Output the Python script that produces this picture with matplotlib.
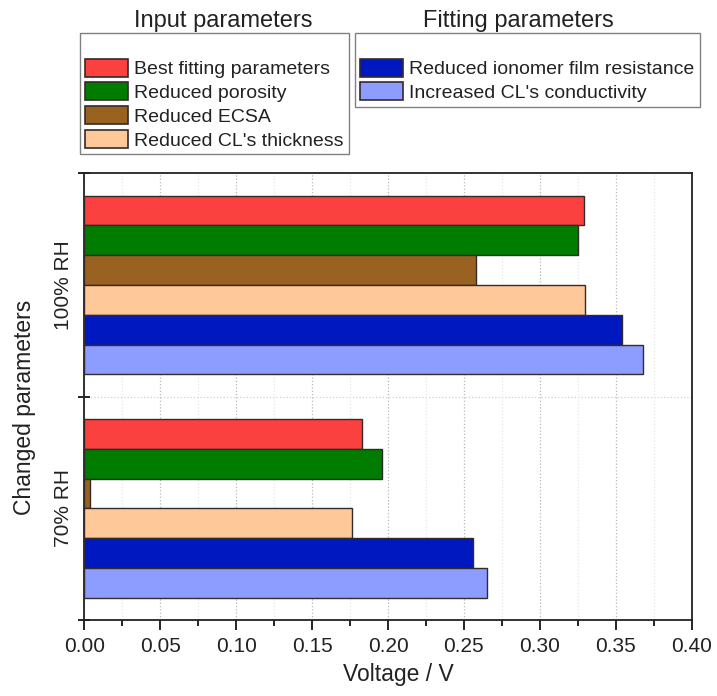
import numpy as np
import matplotlib
matplotlib.use('Agg')
import matplotlib.pyplot as plt
import matplotlib.ticker as ticker
from matplotlib.patches import Patch

plt.rcParams['font.family'] = ['Liberation Sans', 'DejaVu Sans']

groups = ['70% RH', '100% RH']
series = ['Best fitting parameters', 'Reduced porosity', 'Reduced ECSA',
          "Reduced CL's thickness", 'Reduced ionomer film resistance',
          "Increased CL's conductivity"]
colors = ['#fb4040', '#007c00', '#9a6220', '#ffc898', '#0018c0', '#8c9cff']

# voltage for each series, [70% RH, 100% RH]
best_fit = [0.183, 0.329]
porosity = [0.196, 0.325]
ecsa = [0.004, 0.258]
thickness = [0.176, 0.330]
ionomer = [0.256, 0.354]
conductivity = [0.265, 0.368]
values = [best_fit, porosity, ecsa, thickness, ionomer, conductivity]

W, H = 717, 696
fig = plt.figure(figsize=(W / 100, H / 100), dpi=100)
ax = fig.add_axes([84.3 / W, 1 - 620 / H, 607.4 / W, 446.7 / H])

y = np.arange(len(groups))
h = 0.8 / len(series)
for i, (vals, c) in enumerate(zip(values, colors)):
    ax.barh(y + (2.5 - i) * h, vals, height=h, color=c,
            edgecolor='#332a2a', linewidth=1.0, zorder=3)

ax.set_xlim(0, 0.40)
ax.set_ylim(-0.5, 1.5)

ax.xaxis.set_major_locator(ticker.MultipleLocator(0.05))
ax.xaxis.set_minor_locator(ticker.MultipleLocator(0.025))
ax.xaxis.set_major_formatter(ticker.FormatStrFormatter('%.2f'))
ax.tick_params(axis='x', which='major', direction='out', length=7, width=1.2,
               labelsize=15, pad=5, top=False, labelcolor='#222222')
ax.tick_params(axis='x', which='minor', direction='out', length=4, width=1.2,
               top=False)

ax.set_yticks([-0.5, 0.5, 1.5])
ax.set_yticklabels([])
ax.set_yticks(y, minor=True)
ax.set_yticklabels(groups, minor=True, rotation=90, va='center', fontsize=15,
                   color='#222222')
ax.tick_params(axis='y', which='major', direction='inout', length=8, width=1.2)
ax.tick_params(axis='y', which='minor', length=0, pad=8)

ax.grid(True, which='major', axis='x', color='#b8b8b8', linestyle=':', linewidth=0.9, zorder=0)
ax.grid(True, which='minor', axis='x', color='#e6e6e6', linestyle=':', linewidth=0.9, zorder=0)
ax.axhline(0.5, color='#d0d0d0', linestyle=':', linewidth=0.9, zorder=0)

for s in ax.spines.values():
    s.set_linewidth(1.3)
    s.set_color('#222222')

fig.text(398 / W, 1 - 675 / H, 'Voltage / V', ha='center', va='center', fontsize=16.5, color='#222222')
fig.text(25 / W, 1 - 407 / H, 'Changed parameters', ha='center', va='center',
         rotation=90, fontsize=16.5, color='#222222')

# legends: input parameters and fitting parameters
handles = [Patch(facecolor=c, edgecolor='#332a2a', linewidth=1.2) for c in colors]
leg_kw = dict(fontsize=14, title=' ', title_fontsize=14, frameon=True, fancybox=False,
              framealpha=1, edgecolor='#808080', handlelength=2.2, handleheight=1.05,
              handletextpad=0.35, labelspacing=0.21, borderpad=0.25, borderaxespad=0,
              loc='upper left', labelcolor='#222222')
leg1 = fig.legend(handles[:4], series[:4], bbox_to_anchor=(80 / W, 1 - 32.7 / H), **leg_kw)
leg2 = fig.legend(handles[4:], series[4:], bbox_to_anchor=(355 / W, 1 - 32.7 / H), **leg_kw)
for leg in (leg1, leg2):
    leg.get_frame().set_linewidth(1.0)

fig.text(223 / W, 1 - 26.7 / H, 'Input parameters', ha='center', va='baseline',
         fontsize=17, color='#222222')
fig.text(518 / W, 1 - 26.7 / H, 'Fitting parameters', ha='center', va='baseline',
         fontsize=17, color='#222222')

fig.savefig('out.png', dpi=100)
